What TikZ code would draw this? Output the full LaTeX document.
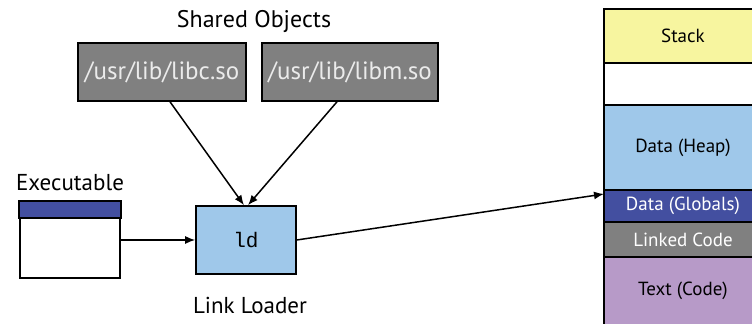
\documentclass[tikz,border=0pt]{standalone}
\usepackage{fontspec}
\setmainfont{PT Sans}
\setmonofont{Liberation Mono}
\usetikzlibrary{positioning,arrows.meta}

\definecolor{sogray}{HTML}{808080}
\definecolor{ldblue}{HTML}{9FC8EA}
\definecolor{globblue}{HTML}{434FA0}
\definecolor{stackyellow}{HTML}{F7F59F}
\definecolor{codepurple}{HTML}{B79AC8}

\tikzset{
  sobox/.style={draw, line width=0.8pt, fill=sogray, text=white!92!black,
    minimum width=84pt, minimum height=29pt, inner sep=0pt, font=\fontsize{12.5}{14}\selectfont},
  ldbox/.style={draw, line width=0.8pt, fill=ldblue, minimum width=50pt,
    minimum height=34pt, font=\ttfamily\fontsize{10.5}{12}\selectfont},
  exebox/.style={draw, line width=0.8pt, fill=white, minimum width=50pt, minimum height=38pt},
  seg/.style={draw, line width=0.75pt, minimum width=79pt, inner sep=0pt, outer sep=0pt,
    font=\fontsize{9.5}{11}\selectfont},
  lbl/.style={font=\fontsize{12}{14}\selectfont},
  arr/.style={-{Latex[length=5pt,width=4pt]}, line width=0.75pt}
}

\begin{document}
\begin{tikzpicture}[x=0.5pt, y=-0.5pt]

    \useasboundingbox (0,0) rectangle (752,324);

    % shared objects
    \node[lbl] (shtitle) at (254,22) {Shared Objects};
    \node[sobox] (libc) at (162,72) {/usr/lib/libc.so};
    \node[sobox, minimum width=88pt] (libm) at (350,72) {/usr/lib/libm.so};

    % executable and loader
    \node[lbl, font=\fontsize{11.5}{13}\selectfont] (exetitle) at (70,183) {Executable};
    \node[exebox] (exe) at (70,240) {};
    \draw[line width=0.8pt, fill=globblue] (exe.north west) rectangle ([yshift=-8.5pt]exe.north east);
    \node[ldbox] (ld) at (246,240) {ld};
    \node[lbl, font=\fontsize{11.5}{13}\selectfont] (ldtitle) at (250,306) {Link Loader};

    % memory layout
    \node[seg, fill=stackyellow, minimum height=27pt] (stack) at (683,36) {Stack};
    \node[seg, fill=white, minimum height=21pt, below=0pt of stack] (free) {};
    \node[seg, fill=ldblue, minimum height=42.5pt, below=0pt of free] (heap) {Data (Heap)};
    \node[seg, fill=globblue, text=white, minimum height=16pt, below=0pt of heap] (globals) {Data (Globals)};
    \node[seg, fill=sogray, text=white, minimum height=17.5pt, below=0pt of globals] (linked) {Linked Code};
    \node[seg, fill=codepurple, minimum height=34pt, below=0pt of linked] (textseg) {Text (Code)};
    \coordinate (memin) at ([yshift=-2pt]heap.south west);

    % connectors
    \draw[arr] ([xshift=4pt]libc.south) -- ([xshift=-1pt]ld.north);
    \draw[arr] ([xshift=-6.5pt]libm.south) -- ([xshift=1pt]ld.north);
    \draw[arr] (exe.east) -- (ld.west);
    \draw[arr] (ld.east) -- (memin);

\end{tikzpicture}
\end{document}
